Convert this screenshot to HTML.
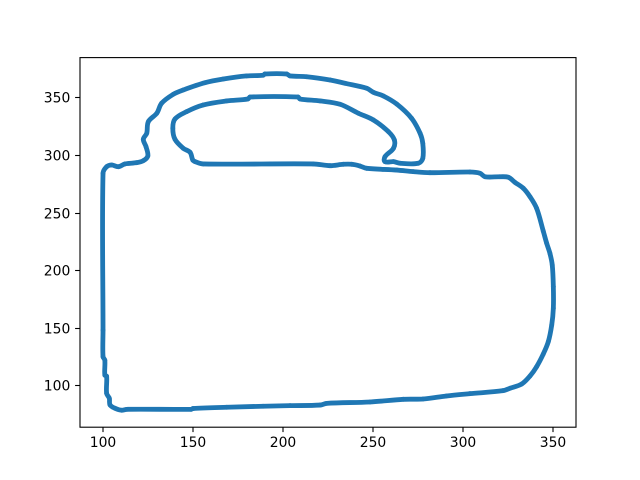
<!DOCTYPE html>
<html>
<head>
<meta charset="utf-8">
<style>
html,body{margin:0;padding:0;background:#fff;}
svg{display:block;}
text{font-family:"DejaVu Sans","Liberation Sans",sans-serif;font-size:13.9px;fill:#000;}
</style>
</head>
<body>
<svg id="chart" width="640" height="480" viewBox="0 0 640 480" xmlns="http://www.w3.org/2000/svg"></svg>
<script>
const xTicks = [100, 150, 200, 250, 300, 350];
const yTicks = [100, 150, 200, 250, 300, 350];
const xValues = [100,100,100,101,101,102,102,103.5,103.9,106.7,110.4,113.2,149,150,168.8,189,204,220.7,224.4,248.5,267,278,291,304,322.4,326.3,332.8,337.4,341.1,344.8,347.6,349.5,350.4,350.4,349.8,348.5,346.7,344.8,341.1,337.4,333.7,329,325.4,320.7,312.4,309.6,304,281.8,272.5,263.3,246.6,242.9,238.3,233.6,226.2,216.8,155.8,151.2,149.9,148.4,144.6,140,138.8,140,146.5,155.8,168.8,180.6,181.8,208.4,209.5,220.7,231.8,242,250.3,258.7,262,261.5,256.8,256.8,261.5,265.2,275.3,277.8,277.8,276.3,271.6,263.3,255.9,250.3,246.6,234.6,226.2,213.3,204,202.1,190,189.1,179.9,166.9,156.7,144.6,139.1,132.6,129.9,125.2,124.3,122.4,123.9,124.9,122.4,118.7,112.2,108.5,104.8,102];
const yValues = [284.2,148,125,122,109,108,93.2,88.9,83.1,80.2,78.5,79.3,79.3,80,81.1,82,82.5,83,84.5,85.7,88,88.3,90.9,92.9,95.5,97.6,101.3,108.2,116.3,127.3,138,152.5,167,185.8,204.6,214.7,223.4,234,253.8,263.9,271.2,276.4,280.7,281.2,281.2,284.2,285.3,284.7,285.6,287,288.5,290.5,292,292,290.8,292.3,292.3,294.3,295.7,302.4,305.9,313.7,323.3,331.3,337.7,343.5,347,348.7,350.4,350.4,348.7,347,344.1,336.3,330.5,320.3,313.1,305.9,298.6,294.3,294.3,292.9,292.9,297.2,310.2,318.9,331.9,344.3,351.3,354.5,358,362.3,365.2,368,368.7,370.4,370.4,369.3,368.7,366,362.8,356.5,352.8,345,336.3,329,318.9,313.7,307.3,299.2,295.1,293.4,292.3,289.9,291.4,289.9];
const xDomain = [87.2, 363];
const yDomain = [63.8, 384.6];

const svg = document.getElementById('chart');
const NS = 'http://www.w3.org/2000/svg';
const plot = {left: 80, right: 576, top: 57.6, bottom: 427.2};
function sx(v){ return plot.left + (v - xDomain[0]) / (xDomain[1] - xDomain[0]) * (plot.right - plot.left); }
function sy(v){ return plot.bottom - (v - yDomain[0]) / (yDomain[1] - yDomain[0]) * (plot.bottom - plot.top); }
function make(tag, attrs){
  const el = document.createElementNS(NS, tag);
  for (const k in attrs) el.setAttribute(k, attrs[k]);
  return el;
}

const bg = make('rect', {x: 0, y: 0, width: 640, height: 480, fill: '#fff'});


svg.appendChild(bg);

const n = xValues.length;
function px(i){ return sx(xValues[(i + n) % n]); }
function py(i){ return sy(yValues[(i + n) % n]); }
function tangent(i){
  const dx = px(i + 1) - px(i - 1);
  const dy = py(i + 1) - py(i - 1);
  const len = Math.hypot(dx, dy) || 1;
  return [dx / len, dy / len];
}
let d = 'M' + px(0).toFixed(2) + ' ' + py(0).toFixed(2);
for (let i = 0; i < n; i++) {
  const seg = Math.hypot(px(i + 1) - px(i), py(i + 1) - py(i)) / 3;
  const t0 = tangent(i);
  const t1 = tangent(i + 1);
  d += 'C' + (px(i) + t0[0] * seg).toFixed(2) + ' ' + (py(i) + t0[1] * seg).toFixed(2) + ' '
    + (px(i + 1) - t1[0] * seg).toFixed(2) + ' ' + (py(i + 1) - t1[1] * seg).toFixed(2) + ' '
    + px(i + 1).toFixed(2) + ' ' + py(i + 1).toFixed(2);
}
const outline = make('path', {d: d + 'Z', fill: 'none', stroke: '#1f77b4', 'stroke-width': 4.8, 'stroke-linejoin': 'round', 'stroke-linecap': 'round'});


svg.appendChild(outline);

xValues.forEach(function(v, i){
  const pt = make('circle', {cx: sx(v).toFixed(2), cy: sy(yValues[i]).toFixed(2), r: 2.4, fill: '#1f77b4'});
  
  
  svg.appendChild(pt);
});

const frame = make('rect', {x: 80, y: 57.6, width: 496, height: 369.6, fill: 'none', stroke: '#000', 'stroke-width': 1.1});


svg.appendChild(frame);

xTicks.forEach(function(t){
  const x = Math.round(sx(t));
  const tick = make('line', {x1: x, x2: x, y1: 427.2, y2: 432.1, stroke: '#000', 'stroke-width': 1.1});
  
  
  svg.appendChild(tick);
  const label = make('text', {x: x, y: 447, 'text-anchor': 'middle'});
  
  
  label.textContent = t;
  svg.appendChild(label);
});

yTicks.forEach(function(t){
  const y = Math.round(sy(t)) + 0.5;
  const tick = make('line', {x1: 75.1, x2: 80, y1: y, y2: y, stroke: '#000', 'stroke-width': 1.1});
  
  
  svg.appendChild(tick);
  const label = make('text', {x: 70.3, y: y + 5, 'text-anchor': 'end'});
  
  
  label.textContent = t;
  svg.appendChild(label);
});
</script>
</body>
</html>
